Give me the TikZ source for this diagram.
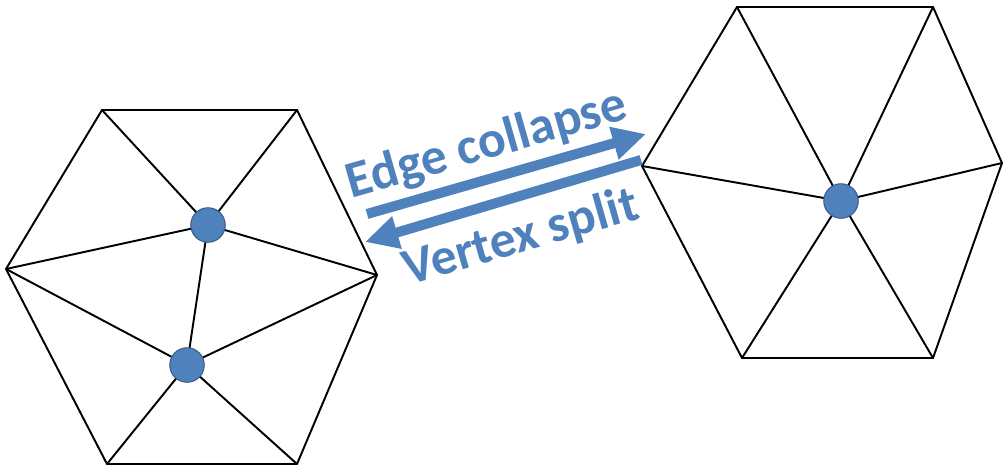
\documentclass[tikz,border=0pt]{standalone}
\usepackage{fontspec}
\setmainfont{Carlito}
\definecolor{mlblue}{RGB}{79,129,189}
\definecolor{mldark}{RGB}{56,93,138}
\usetikzlibrary{arrows.meta,positioning,calc}

\begin{document}
\begin{tikzpicture}[
  x=0.02cm,y=-0.02cm,
  edge/.style={black,line width=1.1pt},
  vert/.style={circle,fill=mlblue,draw=mldark,line width=0.6pt,minimum size=0.69cm,inner sep=0pt},
  arr/.style={-{Triangle[length=19pt,width=18pt]},line width=5.7pt,mlblue},
  lbl/.style={font=\fontsize{29.5}{32}\selectfont\bfseries,mlblue,inner sep=0pt,rotate=16}
]
  \useasboundingbox (0,0) rectangle (1003,467);
  % Left mesh
  \coordinate (a1) at (102,110);
  \coordinate (a2) at (297,110);
  \coordinate (a3) at (377,275);
  \coordinate (a4) at (297,464);
  \coordinate (a5) at (107,464);
  \coordinate (a6) at (6,269);
  \coordinate (u) at (208,225);
  \coordinate (w) at (187,365);
  \draw[edge] (a1) -- (a2) -- (a3) -- (a4) -- (a5) -- (a6) -- cycle;
  \draw[edge] (u) -- (a1) (u) -- (a2) (u) -- (a3) (u) -- (a6) (u) -- (w);
  \draw[edge] (w) -- (a6) (w) -- (a3) (w) -- (a4) (w) -- (a5);
  \node[vert] (du) at (u) {};
  \node[vert] (dw) at (w) {};
  % Right mesh
  \coordinate (b1) at (737,7);
  \coordinate (b2) at (933,7);
  \coordinate (b3) at (1002,163);
  \coordinate (b4) at (933,358);
  \coordinate (b5) at (742,358);
  \coordinate (b6) at (642,166);
  \coordinate (c) at (841,201);
  \draw[edge] (b1) -- (b2) -- (b3) -- (b4) -- (b5) -- (b6) -- cycle;
  \foreach \i in {1,...,6}
    \draw[edge] (c) -- (b\i);
  \node[vert] (dc) at (c) {};
  % Arrows
  \coordinate (p1) at (367,214);
  \coordinate (p2) at (646,134);
  \coordinate (q1) at (641,160);
  \coordinate (q2) at (365,242);
  \draw[arr] (p1) -- (p2);
  \draw[arr] (q1) -- (q2);
  % Labels
  \node[lbl] (collapse) at (487,145) {Edge collapse};
  \node[lbl] (split) at (521,238) {Vertex split};
\end{tikzpicture}
\end{document}
